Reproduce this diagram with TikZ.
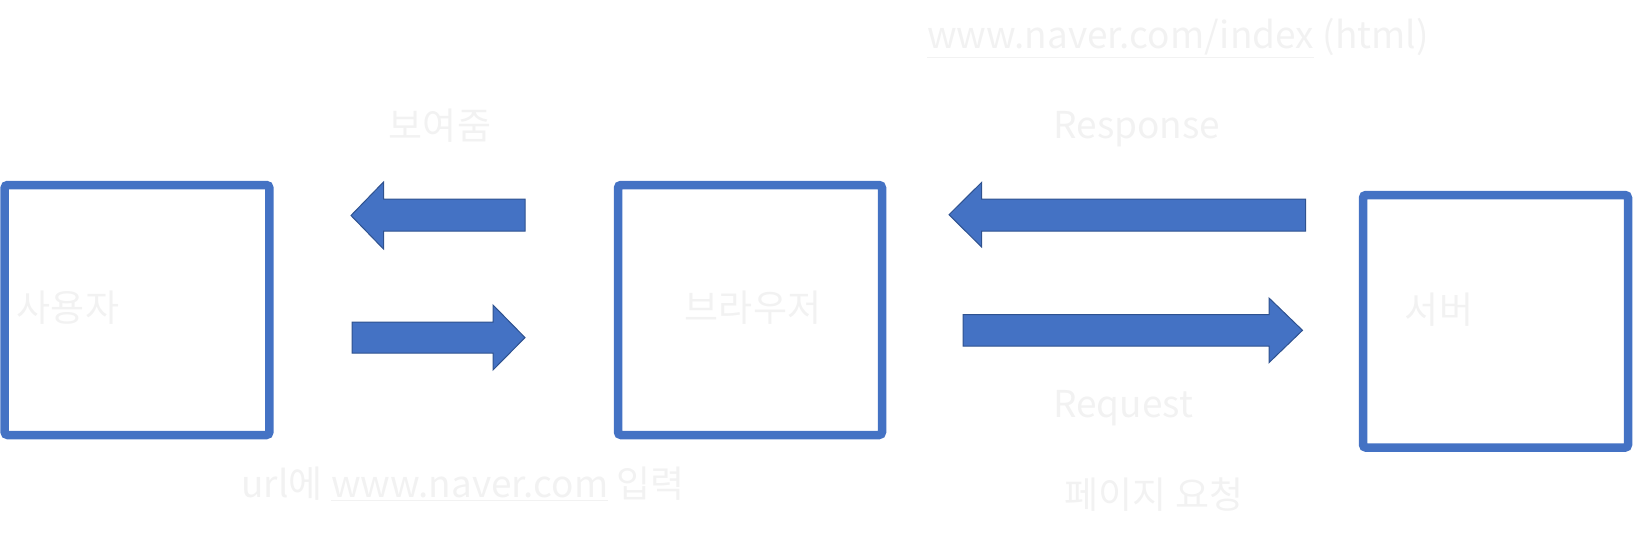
\documentclass[tikz,border=0pt]{standalone}
\usepackage{fontspec}
\setmainfont{Noto Sans CJK KR}
\definecolor{boxblue}{HTML}{4472C4}
\definecolor{arrowedge}{HTML}{2F528F}
\definecolor{paletext}{HTML}{F2F2F2}
\begin{document}
\begin{tikzpicture}[x=1pt, y=-1pt,
    box/.style={draw=boxblue, line width=8.5pt, rounded corners=3pt, inner sep=0pt},
    blockarrow/.style={fill=boxblue, draw=arrowedge, line width=1pt, line join=miter},
    txt/.style={text=paletext, inner sep=0pt, font=\fontsize{37}{44}\selectfont}]
  \useasboundingbox (0,0) rectangle (1634,542);
  % the three boxes
  \node[box, minimum width=264.7pt, minimum height=250pt] (user) at (137,310) {};
  \node[box, minimum width=264pt, minimum height=250pt] (browser) at (750,310) {};
  \node[box, minimum width=265pt, minimum height=252.6pt] (server) at (1495.5,321.3) {};
  % names inside
  \node[txt] (usertxt) at (68,308) {사용자};
  \node[txt] (browsertxt) at (753,308) {브라우저};
  \node[txt] (servertxt) at (1439,310) {서버};
  % block arrows between user and browser
  \filldraw[blockarrow] (525,199) -- (383.5,199) -- (383.5,182) -- (351,215.5)
    -- (383.5,249) -- (383.5,231) -- (525,231) -- cycle;
  \filldraw[blockarrow] (352,322) -- (493,322) -- (493,305) -- (525,337.6)
    -- (493,370) -- (493,353) -- (352,353) -- cycle;
  % block arrows between browser and server
  \filldraw[blockarrow] (1305.6,199) -- (981.6,199) -- (981.6,182.4) -- (949,214.7)
    -- (981.6,247) -- (981.6,231) -- (1305.6,231) -- cycle;
  \filldraw[blockarrow] (963,314.7) -- (1269,314.7) -- (1269,298) -- (1302.5,330.3)
    -- (1269,362.6) -- (1269,346) -- (963,346) -- cycle;
  % labels
  \node[txt] (show) at (440,126) {보여줌};
  \node[txt] (typeurl) at (463,484) {url에 \underline{www.naver.com} 입력};
  \node[txt] (html) at (1178,38) {\underline{www.naver.com/index} (html)};
  \node[txt] (resp) at (1137,129) {Response};
  \node[txt] (req) at (1123,408) {Request};
  \node[txt] (pagereq) at (1154,495) {페이지 요청};
\end{tikzpicture}
\end{document}
